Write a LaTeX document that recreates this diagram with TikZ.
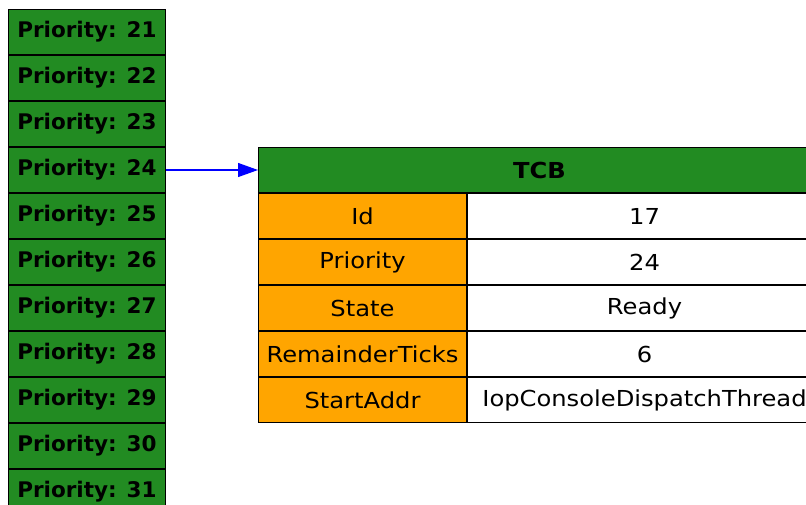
\documentclass[tikz,border=0pt]{standalone}
\usepackage{fontspec}
\setmainfont{DejaVu Sans}
\newfontfamily\widefont[FakeStretch=1.1]{DejaVu Sans}
\usetikzlibrary{arrows.meta,positioning}
\definecolor{qgreen}{HTML}{228B22}
\definecolor{qorange}{HTML}{FFA500}
\tikzset{
  prio/.style  = {draw=black, fill=qgreen, line width=1pt, inner sep=0pt,
                  minimum width=157pt, minimum height=45pt,
                  font=\fontsize{21.5}{24}\selectfont\bfseries},
  tcbhead/.style = {draw=black, fill=qgreen, line width=1pt, inner sep=0pt,
                  minimum width=562pt, minimum height=45pt,
                  font=\fontsize{22}{24}\widefont\bfseries},
  field/.style = {draw=black, fill=qorange, line width=1pt, inner sep=0pt,
                  minimum width=208pt, minimum height=45pt,
                  font=\fontsize{22}{24}\widefont},
  value/.style = {draw=black, fill=white, line width=1pt, inner sep=0pt,
                  minimum width=354pt, minimum height=45pt,
                  font=\fontsize{22}{24}\widefont},
  arr/.style   = {-{Triangle[length=20pt, width=14pt]}, draw=blue, fill=blue, line width=1.2pt},
}

\begin{document}
\begin{tikzpicture}
  \clip (0pt,0pt) rectangle (806pt,-504pt);
  % ready queue
  \node[prio, anchor=north west] (p21) at (8pt,-9pt) {Priority: 21};
  \foreach \n [count=\i from 21] in {22,...,31}
    \node[prio, below=0pt of p\i] (p\n) {Priority: \n};
  % task control block
  \node[tcbhead, anchor=north west] (tcb) at (258pt,-147pt) {TCB};
  \node[field, below=0pt of tcb.south west, anchor=north west] (kid) {Id};
  \node[field, below=0pt of kid] (kprio) {Priority};
  \node[field, below=0pt of kprio] (kstate) {State};
  \node[field, below=0pt of kstate] (kticks) {RemainderTicks};
  \node[field, below=0pt of kticks] (kaddr) {StartAddr};
  \node[value, right=0pt of kid] (vid) {17};
  \node[value, right=0pt of kprio] (vprio) {24};
  \node[value, right=0pt of kstate] (vstate) {Ready};
  \node[value, right=0pt of kticks] (vticks) {6};
  \node[value, right=0pt of kaddr] (vaddr) {IopConsoleDispatchThread};
  \draw[arr] (p24.east) -- (tcb.west);
\end{tikzpicture}
\end{document}
